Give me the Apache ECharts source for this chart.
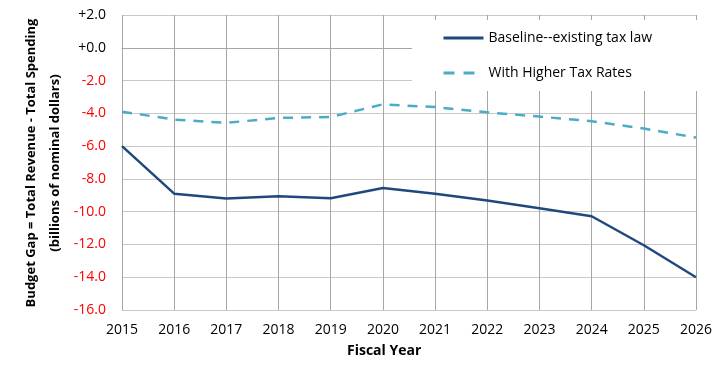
<!DOCTYPE html>
<html><head><meta charset="utf-8">
<script src="https://cdn.jsdelivr.net/npm/echarts@6/dist/echarts.min.js"></script>
<style>html,body{margin:0;padding:0;background:#fff}#c{width:726px;height:370px}</style>
</head><body><div id="c"></div>
<script>
const years = ['2015','2016','2017','2018','2019','2020','2021','2022','2023','2024','2025','2026'];
const baseline = [-6.0,-8.9,-9.2,-9.06,-9.18,-8.55,-8.9,-9.32,-9.79,-10.28,-12.05,-14.0];
const higherTax = [-3.9,-4.38,-4.58,-4.28,-4.22,-3.45,-3.62,-3.94,-4.2,-4.48,-4.93,-5.48];
const seriesNames = ['Baseline--existing tax law','With Higher Tax Rates'];
const yTitle = 'Budget Gap = Total Revenue - Total Spending\n(billions of nominal dollars)';
const xTitle = 'Fiscal Year';

const FONT = 'Open Sans';
const chart = echarts.init(document.getElementById('c'));
chart.setOption({
  animation: false,
  textStyle: {fontFamily: FONT},
  grid: {left: 122, right: 30, top: 15, bottom: 60, containLabel: false},
  legend: {
    left: 412, top: 20, orient: 'vertical',
    backgroundColor: '#fff',
    padding: [11, 55, 11, 30],
    itemWidth: 40, itemHeight: 14, itemGap: 21,
    itemStyle: {opacity: 0},
    lineStyle: {width: 3},
    textStyle: {fontFamily: FONT, fontSize: 14, color: '#000'},
    data: [
      {name: seriesNames[0]},
      {name: seriesNames[1], lineStyle: {type: [11, 9], width: 3, color: '#4bacc6'}}
    ]
  },
  xAxis: {
    type: 'category', data: years, boundaryGap: false,
    axisLine: {lineStyle: {color: '#a6a6a6'}},
    axisTick: {show: false},
    axisLabel: {color: '#000', fontSize: 14, margin: 13, fontFamily: FONT},
    splitLine: {show: true, lineStyle: {color: '#a6a6a6', width: 1}}
  },
  yAxis: {
    type: 'value', min: -16, max: 2, interval: 2,
    axisLine: {show: false}, axisTick: {show: false},
    axisLabel: {
      fontSize: 14, margin: 16, fontFamily: FONT,
      formatter: v => (v >= 0 ? '+' : '') + (v === 0 ? '0.0' : v.toFixed(1)),
      color: v => (Number(v) < 0 ? '#ff0000' : '#000')
    },
    splitLine: {lineStyle: {color: '#c8c8c8', width: 1}}
  },
  graphic: [
    {type: 'text', left: 347, top: 344, style: {text: xTitle, font: 'bold 14px "' + FONT + '"', fill: '#000', textAlign: 'center'}},
    {type: 'text', x: 43, y: 163, rotation: Math.PI / 2,
     style: {text: yTitle, font: 'bold 13px "' + FONT + '"', fill: '#000', textAlign: 'center', textVerticalAlign: 'middle', lineHeight: 24}}
  ],
  series: [
    {name: seriesNames[0], type: 'line', data: baseline, symbol: 'none', z: 3,
     lineStyle: {color: '#1f497d', width: 2.5}, itemStyle: {color: '#1f497d'}},
    {name: seriesNames[1], type: 'line', data: higherTax, symbol: 'none', z: 3,
     lineStyle: {color: '#4bacc6', width: 2.5, type: [10, 8]}, itemStyle: {color: '#4bacc6'}}
  ]
});
</script></body></html>
